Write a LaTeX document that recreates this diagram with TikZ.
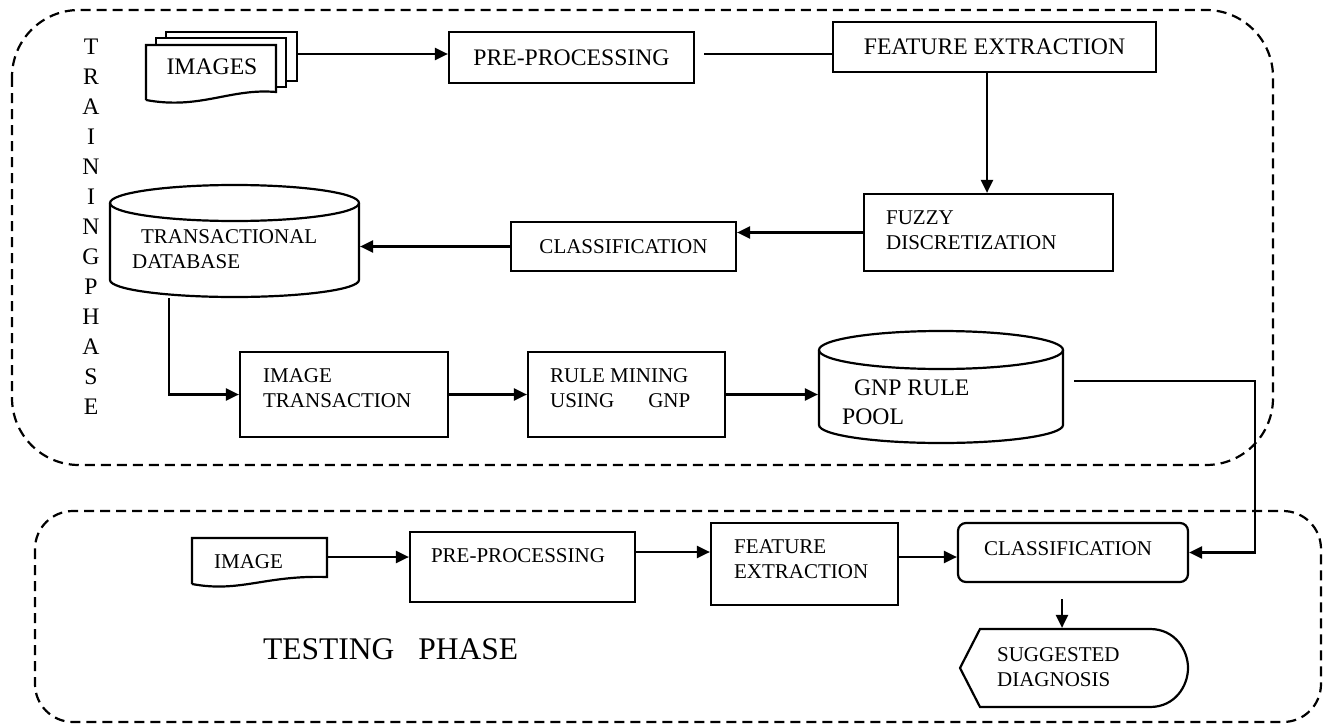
\documentclass[tikz,border=0pt]{standalone}
\usepackage{fontspec}
\setmainfont{Liberation Serif}
\usetikzlibrary{arrows.meta}
\newcommand\fsm{\fontsize{21}{25}\selectfont}
\newcommand\fbg{\fontsize{23.7}{29}\selectfont}
\newcommand\fhg{\fontsize{31.5}{36}\selectfont}
\begin{document}
\begin{tikzpicture}[x=1pt,y=-1pt,line width=2.2pt,
  box/.style={draw,line width=2.2pt,inner sep=0pt,fill=white,font=\fsm},
  ghost/.style={inner sep=0pt},
  lbl/.style={inner sep=0pt,anchor=west,align=left,font=\fsm},
  arr/.style={-{Triangle[length=13pt,width=12pt]},line width=2.2pt},
  phase/.style={dash pattern=on 10pt off 6pt,line width=2.2pt}]
\useasboundingbox (0,0) rectangle (1323,725);

% phase frames
\draw[phase,rounded corners=67pt] (12,10) rectangle (1273,465);
\draw[phase,rounded corners=38pt] (35,511) rectangle (1321,722);

\node[ghost,font=\fontsize{23.7}{30}\selectfont,align=center] (tr) at (91,227)
  {T\\R\\A\\I\\N\\I\\N\\G\\P\\H\\A\\S\\E};
\node[ghost,anchor=west,font=\fhg] (tp) at (262,649) {TESTING\hspace{24pt}PHASE};

% ---------- training row 1
\draw[fill=white] (166,32) rectangle (297,81);
\draw[fill=white] (156,38) rectangle (286,87);
\draw[fill=white] (146,100) -- (146,45) -- (276,45) -- (276,92)
  .. controls (230,88) and (200,110) .. (146,100);
\node[ghost,minimum width=151,minimum height=44] (imgs) at (221.5,54) {};
\node[ghost,font=\fbg] (imgst) at (212,67) {IMAGES};

\node[box,font=\fbg,minimum width=245,minimum height=51] (pre1) at (571.5,57.5) {PRE-PROCESSING};
\node[box,font=\fbg,minimum width=323,minimum height=50] (fe1) at (994.5,47) {FEATURE EXTRACTION};

\draw[arr] (imgs.east) -- (imgs.east -| pre1.west);
\coordinate (po) at ([xshift=9pt,yshift=3.5pt]pre1.east);
\draw (po) -- (po -| fe1.west);

% ---------- training row 2
\node[box,minimum width=249,minimum height=77] (fz) at (988.5,232.5) {};
\node[lbl] (fzt) at (885,230.5) {FUZZY\\DISCRETIZATION};
\node[box,minimum width=225,minimum height=49] (cl1) at (623.5,246.5) {CLASSIFICATION};

\draw[fill=white] (110,203) -- (110,280) arc[start angle=180,end angle=0,x radius=124.5,y radius=17] -- (359,203);
\draw (234.5,203) ellipse [x radius=124.5,y radius=18];
\node[ghost,minimum width=249,minimum height=112] (tdb) at (234.5,241) {};
\node[lbl] (tdbt) at (131,249.5) {\hspace{9pt}TRANSACTIONAL\\DATABASE};

\coordinate (feo) at ([xshift=-7.5pt]fe1.south);
\draw[arr] (feo) -- (feo |- fz.north);
\draw[arr] (fz.west) -- (fz.west -| cl1.east);
\draw[arr] (cl1.west) -- (cl1.west -| tdb.east);

% ---------- training row 3
\node[box,minimum width=208,minimum height=85] (it) at (344,394.5) {};
\node[lbl] (itt) at (262,388) {IMAGE\\TRANSACTION};
\node[box,minimum width=197,minimum height=85] (rm) at (626.5,394.5) {};
\node[lbl] (rmt) at (549,388) {RULE MINING\\USING\hspace{34pt}GNP};

\draw[fill=white] (819,350) -- (819,425) arc[start angle=180,end angle=0,x radius=122,y radius=18] -- (1063,350);
\draw (941,350) ellipse [x radius=122,y radius=19];
\node[ghost,minimum width=244,minimum height=112] (gnp) at (941,387.5) {};
\node[lbl,font=\fbg] (gnpt) at (841,402.5) {\hspace{12pt}GNP RULE\\POOL};

\draw[arr] ([xshift=-65.5pt]tdb.south) |- (it.west);
\draw[arr] (it.east) -- (rm.west);
\draw[arr] (rm.east) -- (rm.east -| gnp.west);

% ---------- testing row
\draw[fill=white] (192,584) -- (192,538) -- (327,538) -- (327,577)
  .. controls (265,575) and (240,593) .. (192,584);
\node[ghost,minimum width=135,minimum height=46] (img) at (259.5,557) {};
\node[lbl] (imgt) at (213,562) {IMAGE};

\node[box,minimum width=225,minimum height=70] (pre2) at (522.5,567) {};
\node[ghost,font=\fsm] (pre2t) at (518,556) {PRE-PROCESSING};
\node[box,minimum width=187,minimum height=82] (fe2) at (804.5,564) {};
\node[lbl] (fe2t) at (733,559.5) {FEATURE\\EXTRACTION};
\node[box,rounded corners=8pt,minimum width=230,minimum height=59] (cl2) at (1073,552.5) {};
\node[ghost,font=\fsm] (cl2t) at (1068,549) {CLASSIFICATION};

\draw[fill=white] (960,668) -- (980,629) -- (1150,629)
  .. controls (1175,629) and (1188,650) .. (1188,668)
  .. controls (1188,686) and (1175,707) .. (1150,707) -- (980,707) -- cycle;
\node[ghost,minimum width=228,minimum height=78] (sd) at (1074,668) {};
\node[lbl] (sdt) at (996,667) {SUGGESTED\\DIAGNOSIS};

\draw[arr] (img.east) -- (img.east -| pre2.west);
\coordinate (p2o) at ([yshift=15pt]pre2.east);
\draw[arr] (p2o) -- (p2o -| fe2.west);
\coordinate (f2o) at ([yshift=7pt]fe2.east);
\draw[arr] (f2o) -- (f2o -| cl2.west);
\draw[arr] ([xshift=10pt,yshift=6.5pt]gnp.east) -- ++(181,0) |- (cl2.east);
\coordinate (cdo) at ([xshift=-11pt,yshift=-16pt]cl2.south);
\draw[arr] (cdo) -- (cdo |- sd.north);
\end{tikzpicture}
\end{document}
